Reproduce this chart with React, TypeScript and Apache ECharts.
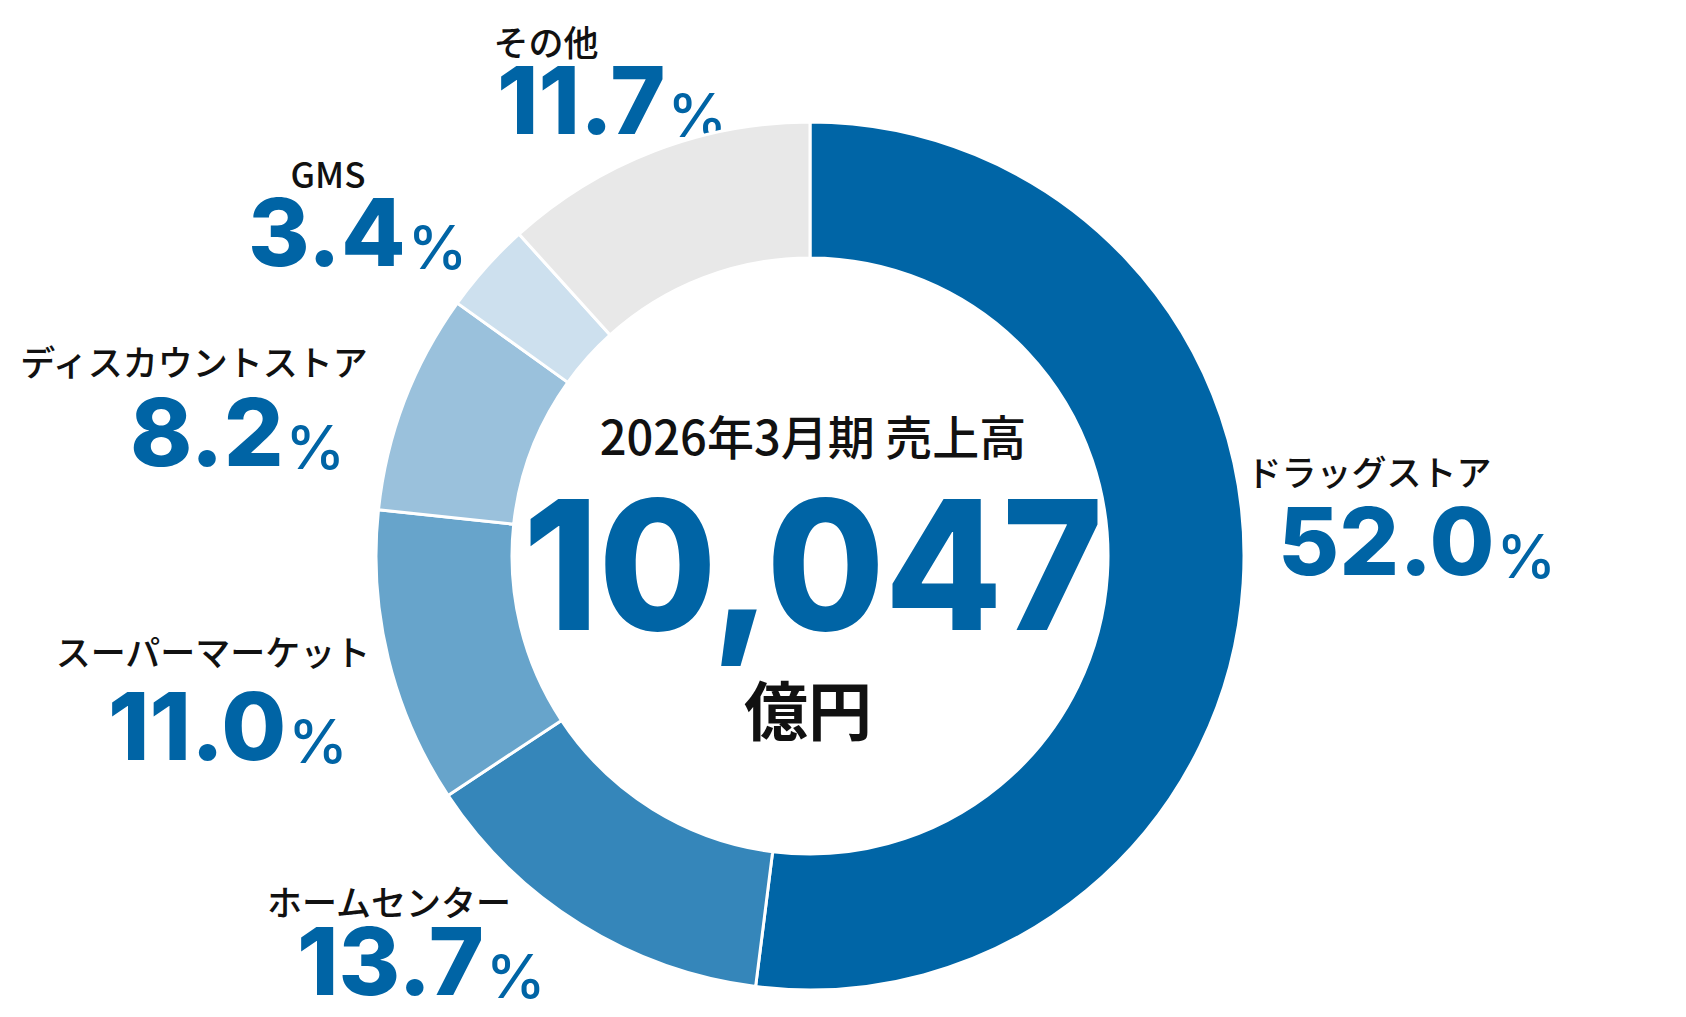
import React, { useEffect, useRef } from 'react';
import * as echarts from 'echarts';

// 2026年3月期 売上高の業態別構成比
const segments = ['ドラッグストア', 'ホームセンター', 'スーパーマーケット', 'ディスカウントストア', 'GMS', 'その他'];
const shares = [52.0, 13.7, 11.0, 8.2, 3.4, 11.7];
const colors = ['#0065a6', '#3586ba', '#67a4cb', '#9ac1dc', '#cde0ee', '#e8e8e8'];

const centerTitle = '2026年3月期 売上高';
const totalSales = '10,047';
const totalUnit = '億円';

// label anchor per segment: name center x / y, value left x / bottom y
const labelPos = [
  { nx: 1369, ny: 470, vx: 1278, vy: 588 },
  { nx: 389, ny: 900, vx: 297, vy: 1008 },
  { nx: 213, ny: 650, vx: 108, vy: 773 },
  { nx: 194, ny: 360, vx: 130, vy: 479 },
  { nx: 328, ny: 172, vx: 248, vy: 279 },
  { nx: 546, ny: 40, vx: 497, vy: 147 },
];

const BLUE = '#0064a5';
const JP = '"Noto Sans CJK JP", "Noto Sans", sans-serif';
const NUM = 'Inter, "Open Sans", sans-serif';

const App: React.FC = () => {
  const chartRef = useRef<HTMLDivElement | null>(null);

  useEffect(() => {
    if (!chartRef.current) return;
    const chart = echarts.init(chartRef.current, undefined, { renderer: 'svg' });

    const labels: any[] = [];
    segments.forEach((name, i) => {
      const p = labelPos[i];
      labels.push({
        type: 'text',
        x: p.nx,
        y: p.ny,
        style: {
          text: name,
          fill: '#111',
          font: `500 35px ${JP}`,
          align: 'center',
          verticalAlign: 'middle',
        },
      });
      labels.push({
        type: 'text',
        x: p.vx,
        y: p.vy,
        style: {
          text: `{n|${shares[i].toFixed(1)}}{p|%}`,
          align: 'left',
          verticalAlign: 'bottom',
          rich: {
            n: { fontFamily: NUM, fontWeight: 800, fontSize: 94, lineHeight: 76, fill: BLUE, verticalAlign: 'bottom' },
            p: { fontFamily: NUM, fontWeight: 500, fontSize: 60, lineHeight: 52, fill: BLUE, verticalAlign: 'bottom', padding: [0, 0, 2, 2] },
          },
        },
      });
    });

    const option = {
      animation: false,
      backgroundColor: '#ffffff',
      series: [
        {
          type: 'pie',
          center: [810, 556],
          radius: [298, 434],
          startAngle: 90,
          clockwise: true,
          silent: true,
          label: { show: false },
          labelLine: { show: false },
          itemStyle: { borderColor: '#ffffff', borderWidth: 3 },
          data: segments.map((name, i) => ({
            name,
            value: shares[i],
            itemStyle: { color: colors[i] },
          })),
        },
      ],
      graphic: [
        ...labels,
        {
          type: 'text',
          x: 813,
          y: 434,
          style: { text: centerTitle, fill: '#111', font: `500 47px ${JP}`, align: 'center', verticalAlign: 'middle' },
        },
        {
          type: 'text',
          x: 813,
          y: 564,
          scaleX: 0.95,
          style: {
            text: totalSales,
            fill: BLUE,
            font: `800 180px ${NUM}`,
            align: 'center',
            verticalAlign: 'middle',
          },
        },
        {
          type: 'text',
          x: 808,
          y: 707,
          style: { text: totalUnit, fill: '#111', font: `700 64px ${JP}`, align: 'center', verticalAlign: 'middle' },
        },
      ],
    };

    chart.setOption(option);
    return () => {
      chart.dispose();
    };
  }, []);

  return <div ref={chartRef} style={{ position: 'fixed', left: 0, top: 0, width: '1686px', height: '1017px' }} />;
};

export default App;
